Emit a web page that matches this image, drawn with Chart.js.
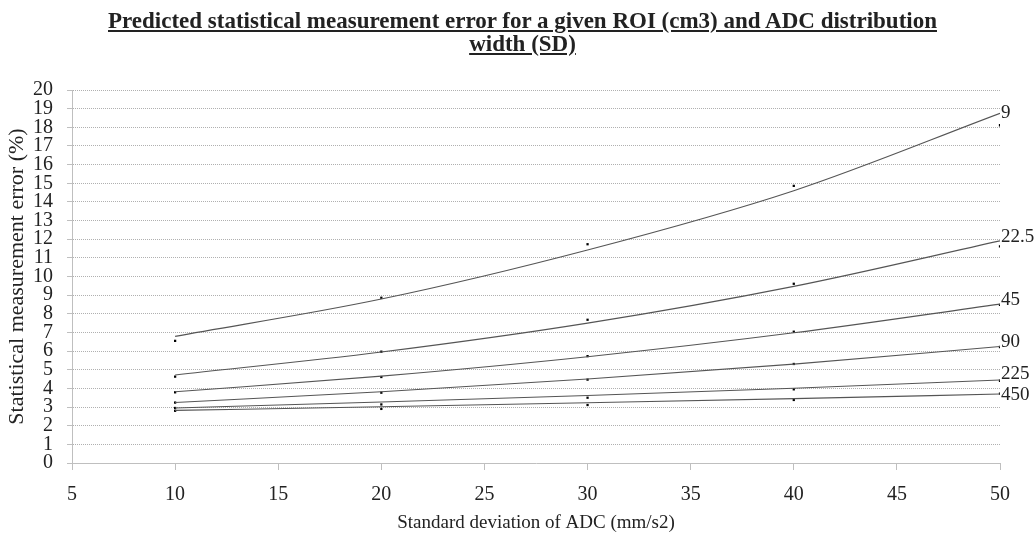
<!DOCTYPE html>
<html lang="en">
<head>
  <meta charset="UTF-8">
  <title>Predicted statistical measurement error</title>
  <script src="https://cdn.jsdelivr.net/npm/chart.js"></script>
  <style>
    body { margin: 0; background: #fff; }
    .wrap { position: relative; width: 1035px; height: 539px; }
    .chart-title {
      position: absolute;
      top: 9px;
      left: 10px;
      width: 1025px;
      text-align: center;
      font-family: "Liberation Serif", "Times New Roman", serif;
      font-weight: bold;
      font-size: 23px;
      line-height: 23px;
      text-decoration: underline;
      color: #222;
    }
    canvas { position: absolute; left: 0; top: 0; }
  </style>
</head>
<body>
  <div class="wrap">
    <canvas id="errChart" width="1035" height="539"></canvas>
    <div class="chart-title">Predicted statistical measurement error for a given ROI (cm3) and ADC distribution<br>width (SD)</div>
  </div>
  <script>
    // ADC standard deviation values where errors were measured
    const sdValues = [10, 20, 30, 40, 50];
    const roiLabels = ['9', '22.5', '45', '90', '225', '450'];

    // measured points (%)
    const roi9 = [6.55, 8.86, 11.73, 14.86, 18.11];
    const roi22_5 = [4.63, 5.97, 7.68, 9.61, 11.61];
    const roi45 = [3.79, 4.61, 5.73, 7.04, 8.48];
    const roi90 = [3.24, 3.77, 4.47, 5.31, 6.22];
    const roi225 = [2.95, 3.14, 3.50, 3.95, 4.41];
    const roi450 = [2.80, 2.90, 3.11, 3.38, 3.72];

    // trendline values at the same SD values
    const trend9 = [6.79, 8.79, 11.42, 14.6, 18.75];
    const trend22_5 = [4.72, 5.95, 7.5, 9.47, 11.91];
    const trend45 = [3.82, 4.66, 5.7, 6.98, 8.52];
    const trend90 = [3.24, 3.82, 4.5, 5.3, 6.25];
    const trend225 = [2.95, 3.27, 3.62, 4.01, 4.45];
    const trend450 = [2.82, 3.02, 3.23, 3.45, 3.70];

    const xTicks = [5, 10, 15, 20, 25, 30, 35, 40, 45, 50];

    const measured = [roi9, roi22_5, roi45, roi90, roi225, roi450];
    const trends = [trend9, trend22_5, trend45, trend90, trend225, trend450];

    const serif = '"Liberation Serif", "Times New Roman", serif';

    function toPoints(values) {
      return values.map((v, i) => ({ x: sdValues[i], y: v }));
    }

    const datasets = [];
    trends.forEach((t, i) => {
      datasets.push({
        label: 'ROI ' + roiLabels[i] + ' trend',
        roiLabel: roiLabels[i],
        data: toPoints(t),
        showLine: true,
        borderColor: '#555',
        borderWidth: 1.1,
        pointRadius: 0,
        cubicInterpolationMode: 'monotone'
      });
    });
    measured.forEach((m, i) => {
      datasets.push({
        label: 'ROI ' + roiLabels[i],
        data: toPoints(m),
        showLine: false,
        pointStyle: 'rect',
        pointRadius: 1.6,
        backgroundColor: '#000',
        borderColor: '#000',
        borderWidth: 0
      });
    });

    // write the ROI value next to the end of each trendline
    const endLabels = {
      id: 'endLabels',
      afterDatasetsDraw(chart) {
        const ctx = chart.ctx;
        ctx.save();
        ctx.font = '19px ' + serif;
        ctx.fillStyle = '#222';
        ctx.textAlign = 'left';
        ctx.textBaseline = 'middle';
        chart.data.datasets.forEach((ds, i) => {
          if (!ds.roiLabel) return;
          const pts = chart.getDatasetMeta(i).data;
          const last = pts[pts.length - 1];
          let dy = -4;
          if (ds.roiLabel === '9') dy = 0;
          if (ds.roiLabel === '225') dy = -6;
          if (ds.roiLabel === '450') dy = 1;
          ctx.fillText(ds.roiLabel, last.x + 1, last.y + dy);
        });
        ctx.restore();
      }
    };

    new Chart(document.getElementById('errChart').getContext('2d'), {
      type: 'scatter',
      data: { datasets: datasets },
      options: {
        responsive: false,
        animation: false,
        devicePixelRatio: 1,
        layout: { padding: { top: 90, right: 35, left: 0, bottom: 0 } },
        plugins: {
          legend: { display: false },
          title: { display: false },
          tooltip: { enabled: false }
        },
        scales: {
          x: {
            type: 'linear',
            min: 5,
            max: 50,
            afterBuildTicks: (scale) => { scale.ticks = xTicks.map(v => ({ value: v })); },
            afterFit: (scale) => { scale.height = 76; },
            border: { color: '#bfbfbf', width: 1 },
            grid: {
              drawOnChartArea: false,
              drawTicks: true,
              tickLength: 7,
              tickColor: '#bfbfbf'
            },
            ticks: {
              autoSkip: false,
              maxRotation: 0,
              padding: 13,
              color: '#222',
              font: { family: serif, size: 20 }
            },
            title: {
              display: true,
              text: 'Standard deviation of ADC (mm/s2)',
              color: '#222',
              font: { family: serif, size: 19 },
              padding: { top: 0, bottom: 5 }
            }
          },
          y: {
            type: 'linear',
            min: 0,
            max: 20,
            afterFit: (scale) => { scale.width = 72; },
            border: { color: '#bfbfbf', width: 1, dash: [1, 1] },
            grid: {
              color: '#b0b0b0',
              drawTicks: true,
              tickLength: 5,
              tickColor: '#bfbfbf'
            },
            ticks: {
              stepSize: 1,
              autoSkip: false,
              padding: 14,
              color: '#222',
              font: { family: serif, size: 20 }
            },
            title: {
              display: true,
              text: 'Statistical measurement error (%)',
              color: '#222',
              font: { family: serif, size: 22 },
              padding: { top: 4, bottom: 0 }
            }
          }
        }
      },
      plugins: [endLabels]
    });
  </script>
</body>
</html>
